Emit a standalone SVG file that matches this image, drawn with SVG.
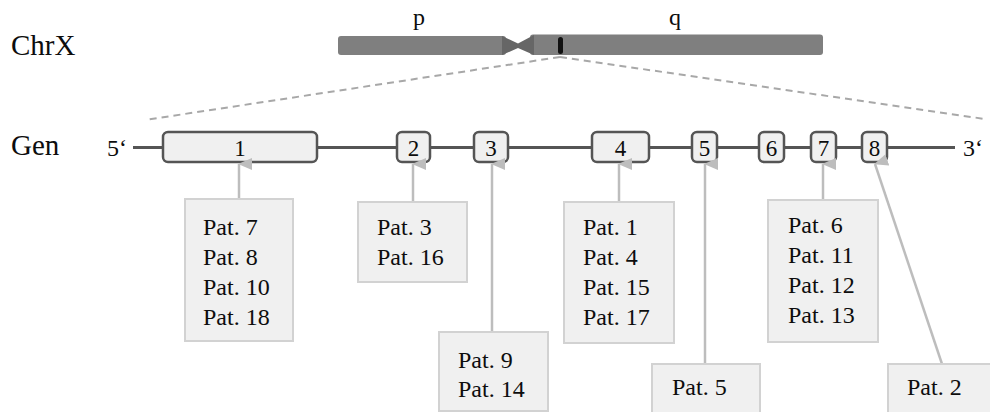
<svg xmlns="http://www.w3.org/2000/svg" width="990" height="412" viewBox="0 0 990 412" font-family="Liberation Serif, serif">
<defs>
<style>
text{font-family:'Liberation Serif','Times New Roman',serif;fill:#0d0d0d}
.lbl{font-size:29px}
.arm{font-size:24px}
.prime{font-size:24px}
.ex rect{fill:#f0f0f0;stroke:#555;stroke-width:2.5}
.ex text{font-size:23px;text-anchor:middle}
.box rect{fill:#f0f0f0;stroke:#d2d2d2;stroke-width:2}
.box text{font-size:24px}
.conn line{stroke:#bdbdbd;stroke-width:2.5}
.dash{stroke:#a8a8a8;stroke-width:2;stroke-dasharray:7 5;fill:none}
</style>
<marker id="ah" viewBox="0 0 12 14" refX="6" refY="1" markerWidth="12" markerHeight="14" markerUnits="userSpaceOnUse" orient="auto-start-reverse">
<path d="M0,14 L6,0 L12,14 Z" fill="#bdbdbd"/>
</marker>
</defs>
<rect width="990" height="412" fill="#fff"/>

<g id="labels">
<text class="lbl" x="11" y="55">ChrX</text>
<text class="lbl" x="11" y="155">Gen</text>
<text class="arm" x="413" y="25">p</text>
<text class="arm" x="669" y="25">q</text>
<text class="prime" x="107" y="156">5‘</text>
<text class="prime" x="963" y="156">3‘</text>
</g>

<g id="chromosome">
<rect x="338" y="36" width="168" height="19" rx="3" fill="#7f7f7f"/>
<rect x="530" y="34.5" width="293" height="20.5" rx="3" fill="#7f7f7f"/>
<polygon points="502,36 518,43.5 534,35 534,55 518,48 502,55" fill="#666"/>
<rect x="558" y="37" width="5" height="17" rx="2.5" fill="#111"/>
</g>

<g id="zoom-lines">
<line class="dash" x1="560" y1="57" x2="145" y2="120"/>
<line class="dash" x1="560" y1="57" x2="985" y2="119"/>
</g>

<g id="gene-line">
<line x1="133" y1="147.5" x2="955" y2="147.5" stroke="#555" stroke-width="3"/>
</g>

<g id="exon1" class="ex"><rect x="163" y="132" width="154" height="30" rx="5"/><text x="240" y="156">1</text></g>
<g id="exon2" class="ex"><rect x="397" y="132" width="33" height="30" rx="5"/><text x="413.5" y="156">2</text></g>
<g id="exon3" class="ex"><rect x="474" y="132" width="34" height="30" rx="5"/><text x="491" y="156">3</text></g>
<g id="exon4" class="ex"><rect x="592" y="132" width="57" height="30" rx="5"/><text x="620.5" y="156">4</text></g>
<g id="exon5" class="ex"><rect x="692" y="132" width="25" height="30" rx="5"/><text x="704.5" y="156">5</text></g>
<g id="exon6" class="ex"><rect x="759" y="132" width="25" height="30" rx="5"/><text x="771.5" y="156">6</text></g>
<g id="exon7" class="ex"><rect x="811" y="132" width="25" height="30" rx="5"/><text x="823.5" y="156">7</text></g>
<g id="exon8" class="ex"><rect x="862" y="132" width="25" height="30" rx="5"/><text x="874.5" y="156">8</text></g>

<g id="connectors" class="conn">
<line x1="239" y1="199" x2="239" y2="164" marker-end="url(#ah)"/>
<line x1="413" y1="202" x2="413" y2="164" marker-end="url(#ah)"/>
<line x1="492" y1="332" x2="492" y2="164" marker-end="url(#ah)"/>
<line x1="619" y1="202" x2="619" y2="164" marker-end="url(#ah)"/>
<line x1="705" y1="364" x2="705" y2="164" marker-end="url(#ah)"/>
<line x1="823" y1="200" x2="823" y2="164" marker-end="url(#ah)"/>
<line x1="942" y1="364" x2="875" y2="164" marker-end="url(#ah)"/>
</g>

<g id="box-exon1" class="box"><rect x="185" y="199" width="108" height="142"/>
<text x="203" y="235">Pat. 7</text><text x="203" y="265">Pat. 8</text><text x="203" y="295">Pat. 10</text><text x="203" y="325">Pat. 18</text></g>
<g id="box-exon2" class="box"><rect x="358" y="202" width="109" height="80"/>
<text x="377" y="235">Pat. 3</text><text x="377" y="265">Pat. 16</text></g>
<g id="box-exon3" class="box"><rect x="439" y="332" width="109" height="79"/>
<text x="458" y="368">Pat. 9</text><text x="458" y="397">Pat. 14</text></g>
<g id="box-exon4" class="box"><rect x="564" y="202" width="110" height="141"/>
<text x="583" y="235">Pat. 1</text><text x="583" y="265">Pat. 4</text><text x="583" y="295">Pat. 15</text><text x="583" y="325">Pat. 17</text></g>
<g id="box-exon5" class="box"><rect x="652" y="364" width="108" height="50"/>
<text x="672" y="395">Pat. 5</text></g>
<g id="box-exon7" class="box"><rect x="768" y="200" width="110" height="142"/>
<text x="788" y="233">Pat. 6</text><text x="788" y="263">Pat. 11</text><text x="788" y="293">Pat. 12</text><text x="788" y="323">Pat. 13</text></g>
<g id="box-exon8" class="box"><rect x="888" y="364" width="110" height="50"/>
<text x="907" y="395">Pat. 2</text></g>
</svg>
